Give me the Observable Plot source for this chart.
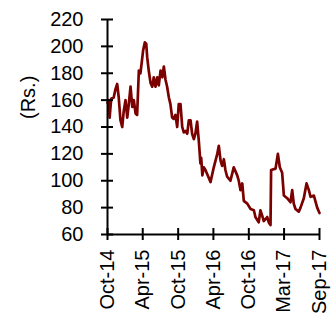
<!DOCTYPE html>
<html><head><meta charset="utf-8">
<script src="https://cdn.jsdelivr.net/npm/d3@7"></script>
<script src="https://cdn.jsdelivr.net/npm/@observablehq/plot@0.6"></script>
<style>body{margin:0;background:#fff}</style>
</head><body><div id="chart"></div>
<script>
const dates = ["2014-10-01","2014-10-07","2014-10-12","2014-10-20","2014-11-02","2014-11-11","2014-11-20","2014-11-28","2014-12-07","2014-12-16","2014-12-24","2015-01-02","2015-01-11","2015-01-19","2015-01-28","2015-02-06","2015-02-14","2015-02-23","2015-03-03","2015-03-12","2015-03-20","2015-03-26","2015-04-03","2015-04-12","2015-04-19","2015-04-24","2015-05-02","2015-05-11","2015-05-20","2015-05-28","2015-06-06","2015-06-15","2015-06-23","2015-07-02","2015-07-11","2015-07-19","2015-07-28","2015-08-05","2015-08-14","2015-08-22","2015-08-31","2015-09-08","2015-09-17","2015-09-26","2015-10-04","2015-10-13","2015-10-22","2015-10-30","2015-11-08","2015-11-17","2015-11-25","2015-12-04","2015-12-12","2015-12-21","2015-12-29","2016-01-07","2016-01-16","2016-01-24","2016-01-28","2016-02-03","2016-02-10","2016-02-19","2016-03-16","2016-04-02","2016-04-20","2016-04-28","2016-05-07","2016-05-15","2016-05-24","2016-06-01","2016-06-10","2016-06-27","2016-07-14","2016-08-01","2016-08-09","2016-08-18","2016-08-27","2016-09-04","2016-09-22","2016-10-09","2016-10-26","2016-11-03","2016-11-20","2016-11-29","2016-12-08","2016-12-16","2017-01-03","2017-01-11","2017-01-20","2017-01-23","2017-02-15","2017-02-27","2017-03-09","2017-03-21","2017-03-30","2017-04-16","2017-05-03","2017-05-12","2017-05-20","2017-05-29","2017-06-15","2017-06-24","2017-07-11","2017-07-25","2017-08-06","2017-08-15","2017-09-01","2017-09-18","2017-09-30"];
const prices = [158,160,147,161,162,168,172,162,145,140,152,160,147,157,170,155,160,150,149,182,180,187,197,203,202,192,182,173,170,177,170,177,171,182,177,185,175,170,162,157,147,146,149,140,157,157,140,136,137,135,145,145,135,131,135,144,129,113,117,104,110,108,99,110,120,126,115,111,116,108,103,100,110,104,100,93,98,85,83,79,78,73,69,78,74,70,73,69,67,108,109,120,110,106,89,87,84,93,83,79,77,80,87,98,93,88,89,80,76];
const yTicks = [60,80,100,120,140,160,180,200,220];
const xTickDates = ["2014-10-01","2015-04-01","2015-10-01","2016-03-31","2016-09-30","2017-03-31","2017-09-30"];
const xTickLabels = ["Oct-14","Apr-15","Oct-15","Apr-16","Oct-16","Mar-17","Sep-17"];

const data = dates.map((d, i) => ({date: new Date(d), price: prices[i]}));
const xTicks = xTickDates.map(d => new Date(d));
const labelMap = new Map(xTicks.map((d, i) => [+d, xTickLabels[i]]));

const chart = Plot.plot({
  width: 333, height: 322,
  marginLeft: 107, marginRight: 14, marginTop: 19, marginBottom: 88,
  style: {fontFamily: "Arial, 'Liberation Sans', sans-serif", fontSize: "20px", color: "#000", background: "#fff"},
  x: {type: "time", domain: [xTicks[0], xTicks[xTicks.length - 1]]},
  y: {domain: [60, 220]},
  marks: [
    Plot.line(data, {x: "date", y: "price", stroke: "#7b0000", strokeWidth: 2.7, strokeLinejoin: "round"}),
    Plot.axisY({ticks: yTicks, tickSize: 12, dx: 6, tickPadding: 18, strokeWidth: 2, label: null, fontSize: 20}),
    Plot.axisX({ticks: xTicks, tickSize: 12, dy: -6, tickPadding: 9, tickRotate: -90, strokeWidth: 2, label: null, fontSize: 20, tickFormat: d => labelMap.get(+d)}),
    Plot.ruleX([xTicks[0]], {stroke: "#000", strokeWidth: 2}),
    Plot.ruleY([60], {stroke: "#000", strokeWidth: 2}),
    Plot.text(["(Rs.)"], {frameAnchor: "left", dx: -79, dy: -8, rotate: -90, fontSize: 20, fill: "#000"})
  ]
});
document.getElementById("chart").appendChild(chart);
</script>
</body></html>
